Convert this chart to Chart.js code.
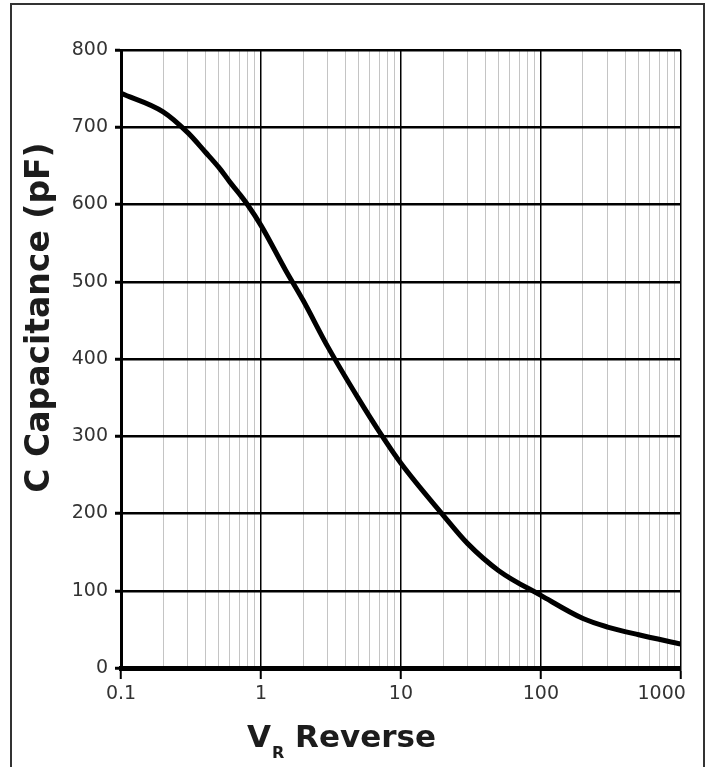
<!DOCTYPE html>
<html>
<head>
<meta charset="utf-8">
<script src="https://cdn.jsdelivr.net/npm/chart.js@4.4.0/dist/chart.umd.min.js"></script>
<style>
html, body { margin: 0; padding: 0; background: #fff; overflow: hidden; }
#wrap { position: relative; width: 709px; height: 767px; }
#frame { position: absolute; left: 10px; top: 3px; width: 695px; height: 820px; border: 2px solid #333; box-sizing: border-box; pointer-events: none; }
canvas { display: block; }
</style>
</head>
<body>
<div id="wrap">
  <canvas id="c" width="709" height="767"></canvas>
  <div id="frame"></div>
</div>
<script>
// ---- data ----
const reverseVoltage = [0.1, 0.2, 0.3, 0.4, 0.5, 0.6, 0.7, 0.8, 1, 1.5, 2, 3, 5, 7, 10, 20, 30, 50, 100, 200, 300, 500, 1000];
const capacitance    = [744, 720, 693, 668, 648, 629, 614, 600, 573, 515, 476, 416, 348, 306, 265, 198, 161, 126, 94, 64, 53, 43, 31];

const xMajorTicks  = [0.1, 1, 10, 100, 1000];
const xMajorLabels = ['0.1', '1', '10', '100', '1000'];
const xMinorTicks  = [0.2, 0.3, 0.4, 0.5, 0.6, 0.7, 0.8, 0.9,
                      2, 3, 4, 5, 6, 7, 8, 9,
                      20, 30, 40, 50, 60, 70, 80, 90,
                      200, 300, 400, 500, 600, 700, 800, 900];
const yTicks = [0, 100, 200, 300, 400, 500, 600, 700, 800];

const yTitle = 'C Capacitance (pF)';
const xTitleMain = 'V';
const xTitleSub = 'R';
const xTitleRest = ' Reverse';

const FONT = '"DejaVu Sans", Verdana, sans-serif';

const allXTicks = xMajorTicks.concat(xMinorTicks).sort((a, b) => a - b);
function majorIndex(v) {
  for (let i = 0; i < xMajorTicks.length; i++) {
    if (Math.abs(v - xMajorTicks[i]) < 1e-9 * Math.max(1, xMajorTicks[i])) return i;
  }
  return -1;
}
function isMajorCtx(ctx) {
  return ctx && ctx.tick ? majorIndex(ctx.tick.value) >= 0 : true;
}

// keep the last x label inside the plot's right edge, as in the reference
const lastLabelPlugin = {
  id: 'lastLabel',
  beforeDraw(chart) {
    const sx = chart.scales.x;
    const items = sx.getLabelItems();
    const lastText = xMajorLabels[xMajorLabels.length - 1];
    items.forEach(it => {
      if (it.label === lastText) {
        it.options.textAlign = 'right';
        it.options.translation[0] = sx.getPixelForValue(xMajorTicks[xMajorTicks.length - 1]) + 5;
      }
    });
  }
};

const titlesPlugin = {
  id: 'titles',
  afterDraw(chart) {
    const c = chart.ctx;
    c.save();
    c.fillStyle = '#1c1c1c';
    c.textAlign = 'left';
    c.textBaseline = 'alphabetic';
    let x = 247;
    const y = 747;
    c.font = 'bold 31px ' + FONT;
    c.fillText(xTitleMain, x, y);
    x += c.measureText(xTitleMain).width + 1;
    c.font = 'bold 16px ' + FONT;
    c.fillText(xTitleSub, x, y + 11);
    x += c.measureText(xTitleSub).width;
    c.font = 'bold 31px ' + FONT;
    c.fillText(xTitleRest, x, y);

    c.translate(49, 317.5);
    c.rotate(-Math.PI / 2);
    c.textAlign = 'center';
    c.font = 'bold 33px ' + FONT;
    c.fillText(yTitle, 0, 0);
    c.restore();
  }
};

new Chart(document.getElementById('c'), {
  type: 'line',
  data: {
    datasets: [{
      data: reverseVoltage.map((v, i) => ({ x: v, y: capacitance[i] })),
      borderColor: '#000',
      borderWidth: 5,
      pointRadius: 0,
      fill: false,
      cubicInterpolationMode: 'monotone'
    }]
  },
  options: {
    responsive: false,
    animation: false,
    events: [],
    layout: { padding: { top: 50, right: 28, left: 0, bottom: 0 } },
    plugins: { legend: { display: false }, tooltip: { enabled: false }, title: { display: false } },
    scales: {
      x: {
        type: 'logarithmic',
        min: 0.1,
        max: 1000,
        afterBuildTicks: (s) => { s.ticks = allXTicks.map(v => ({ value: v, major: false })); },
        afterFit: (s) => { s.height = 99; },
        ticks: {
          autoSkip: false,
          maxRotation: 0,
          minRotation: 0,
          padding: 4,
          color: '#333',
          font: { family: FONT, size: 19 },
          callback: (v) => { const i = majorIndex(v); return i >= 0 ? xMajorLabels[i] : ''; }
        },
        grid: {
          color: (ctx) => isMajorCtx(ctx) ? '#000' : '#c4c4c4',
          lineWidth: (ctx) => isMajorCtx(ctx) ? 1.5 : 1,
          tickLength: 11,
          tickWidth: 2,
          tickColor: (ctx) => isMajorCtx(ctx) ? '#000' : 'rgba(0,0,0,0)'
        },
        border: { display: true, width: 5, color: '#000' }
      },
      y: {
        type: 'linear',
        min: 0,
        max: 800,
        afterBuildTicks: (s) => { s.ticks = yTicks.map(v => ({ value: v })); },
        afterFit: (s) => { s.width = 121; },
        ticks: {
          padding: 7,
          color: '#333',
          font: { family: FONT, size: 19 }
        },
        grid: {
          color: '#000',
          lineWidth: 2.5,
          tickLength: 6,
          tickWidth: 3,
          tickColor: '#000'
        },
        border: { display: true, width: 3, color: '#000' }
      }
    }
  },
  plugins: [lastLabelPlugin, titlesPlugin]
});
</script>
</body>
</html>
